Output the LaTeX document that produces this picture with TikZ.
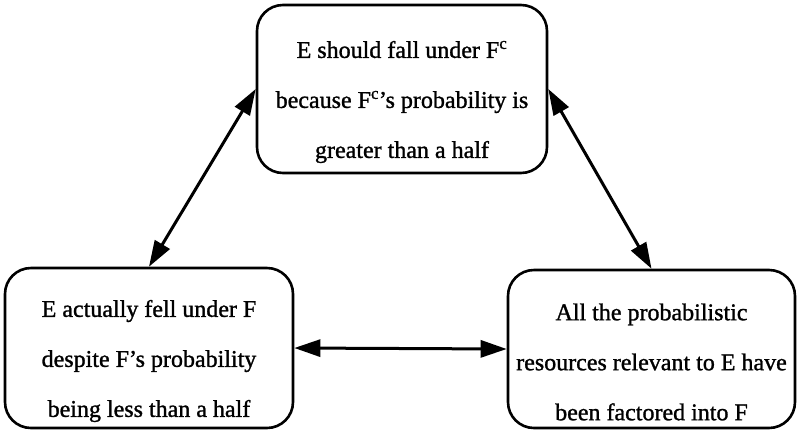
\documentclass[tikz,border=0pt]{standalone}
\usepackage{fontspec}
\setmainfont{Liberation Serif}[FakeBold=1.2]
\usetikzlibrary{arrows.meta}

\begin{document}
\begin{tikzpicture}[x=1pt,y=-1pt,
    claim/.style={draw,line width=2.6pt,rounded corners=26pt},
    claimtext/.style={align=center,yshift=-13pt,font=\fontsize{24}{50}\selectfont},
    link/.style={line width=3pt,{Triangle[length=26pt,width=17pt]}-{Triangle[length=26pt,width=17pt]}}]
      \useasboundingbox (0,0) rectangle (798,432);
      \node[claim,minimum width=290pt,minimum height=168pt] (Fc) at (402,89) {};
      \node[claimtext] (Fctext) at (Fc.center)
        {E should fall under F\textsuperscript{c}\\because F\textsuperscript{c}'s probability is\\greater than a half};
      \node[claim,minimum width=288pt,minimum height=160pt] (Ffell) at (149,348) {};
      \node[claimtext] (Ffelltext) at (Ffell.center)
        {E actually fell under F\\despite F's probability\\being less than a half};
      \node[claim,minimum width=287pt,minimum height=158pt] (Fres) at (651.5,349) {};
      \node[claimtext] (Frestext) at (Fres.center)
        {All the probabilistic\\resources relevant to E have\\been factored into F};
      \draw[link] (Fc.west) -- (Ffell.north);
      \draw[link] (Fc.east) -- (Fres.north);
      \draw[link] (Ffell.east) -- (Fres.west);
    \end{tikzpicture}
\end{document}
